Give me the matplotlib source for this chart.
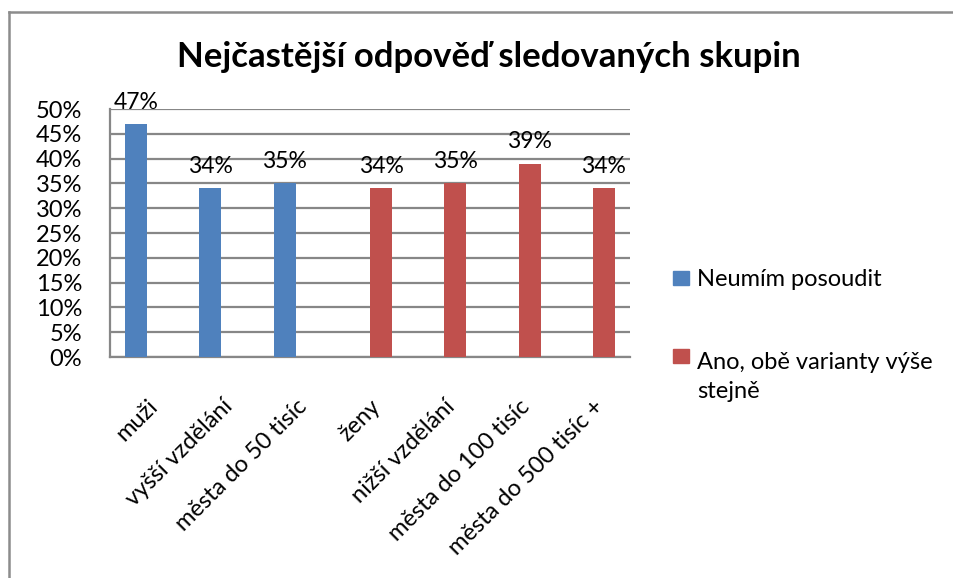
import matplotlib.pyplot as plt
from matplotlib.lines import Line2D
from matplotlib.patches import Rectangle
import numpy as np

# data
categories = ["muži", "vyšší vzdělání", "města do 50 tisíc", "ženy",
              "nižší vzdělání", "města do 100 tisíc", "města do 500 tisíc +"]
series_names = ["Neumím posoudit", "Ano, obě varianty výše stejně"]
blue_values = [47, 34, 35, None, None, None, None]
red_values = [None, None, None, 34, 35, 39, 34]
yticks = [0, 5, 10, 15, 20, 25, 30, 35, 40, 45, 50]

colors = ["#4F81BD", "#C0504D"]
grid_col = "#878787"
W, H = 954, 578

plt.rcParams['font.family'] = ['Lato', 'DejaVu Sans']

fig = plt.figure(figsize=(W/100, H/100), dpi=100)
ax = fig.add_axes([110/W, 1-357/H, 520/W, 248/H])

w = 0.296
x = np.arange(len(categories))
for k, (vals, off) in enumerate([(blue_values, -w/2), (red_values, w/2)]):
    idx = [i for i, v in enumerate(vals) if v is not None]
    hv = [vals[i] for i in idx]
    bars = ax.bar(x[idx] + off, hv, width=w, color=colors[k], zorder=3)
    ax.bar_label(bars, labels=[f"{v}%" for v in hv], padding=8, fontsize=16.5)

ax.set_xlim(-0.5, len(categories) - 0.5)
ax.set_ylim(0, 50)
ax.set_yticks(yticks)
ax.set_yticklabels([f"{v}%" for v in yticks], fontsize=17)
ax.yaxis.grid(True, color=grid_col, lw=1.6, zorder=0)
ax.tick_params(axis='y', length=0, pad=20)
ax.tick_params(axis='x', length=0, pad=28)
ax.set_xticks(x)
ax.set_xticklabels(categories, rotation=45, ha='right', rotation_mode='anchor', fontsize=17)
for s in ['top', 'right']:
    ax.spines[s].set_visible(False)
for s in ['left', 'bottom']:
    ax.spines[s].set_color(grid_col)
    ax.spines[s].set_linewidth(1.6)

fig.text(489/W, 1-57/H, "Nejčastější odpověď sledovaných skupin",
         ha='center', va='center', fontsize=25, fontweight='bold')

# legend drawn by hand so the square sits on the first text line
# (square top, baseline of the last text line) in pixels
legend_rows = [(series_names[0], 271, 286),
               (series_names[1].replace("výše ", "výše\n"), 349, 398)]
for k, (name, sq_top, base) in enumerate(legend_rows):
    fig.add_artist(Rectangle((673/W, 1-(sq_top+14)/H), 16/W, 14/H, color=colors[k],
                             transform=fig.transFigure))
    fig.text(697/W, 1-base/H, name, ha='left', va='baseline', fontsize=17,
             linespacing=1.45)

# outer chart frame
fig.add_artist(Line2D([9/W, 9/W], [0, 1-12/H], color="#8c8c8c", lw=1.8))
fig.add_artist(Line2D([9/W, 1], [1-12/H, 1-12/H], color="#8c8c8c", lw=1.8))

fig.savefig("out.png", dpi=100)
